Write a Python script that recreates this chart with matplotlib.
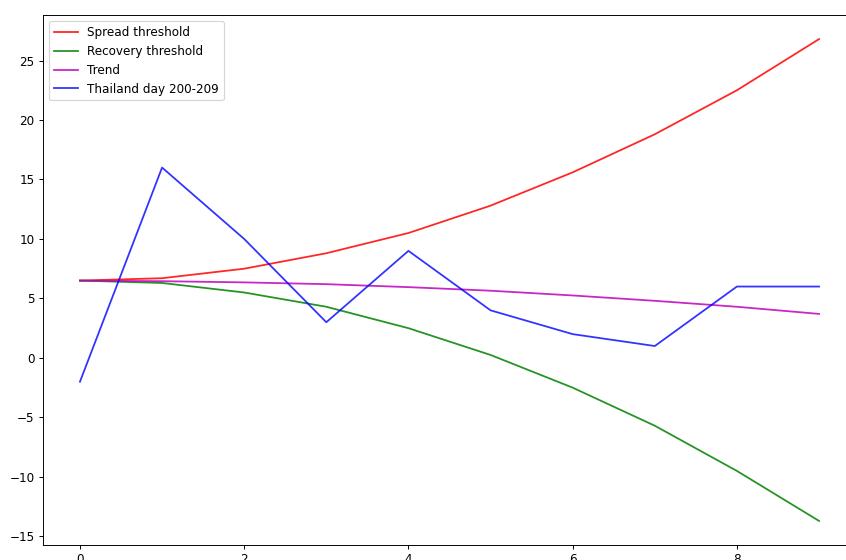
import numpy as np
from matplotlib import pyplot as plt

days = np.arange(10)
spread = [6.5, 6.7, 7.5, 8.8, 10.5, 12.8, 15.6, 18.8, 22.5, 26.8]
recovery = [6.5, 6.3, 5.5, 4.3, 2.5, 0.25, -2.5, -5.7, -9.5, -13.7]
trend = [6.5, 6.45, 6.35, 6.2, 5.95, 5.65, 5.25, 4.8, 4.3, 3.7]
thailand = [-2, 16, 10, 3, 9, 4, 2, 1, 6, 6]

fig = plt.figure(figsize=(846 / 86, 560 / 86), dpi=86)
ax = fig.add_axes([43 / 846, 15 / 560, 813 / 846, 530 / 560])

ax.plot(days, spread, color='r', alpha=0.85, label='Spread threshold')
ax.plot(days, recovery, color='g', alpha=0.85, label='Recovery threshold')
ax.plot(days, trend, color='m', alpha=0.85, label='Trend')
ax.plot(days, thailand, color='b', alpha=0.8, label='Thailand day 200-209')
ax.legend(loc='upper left')

fig.savefig('out.png', dpi=86)
